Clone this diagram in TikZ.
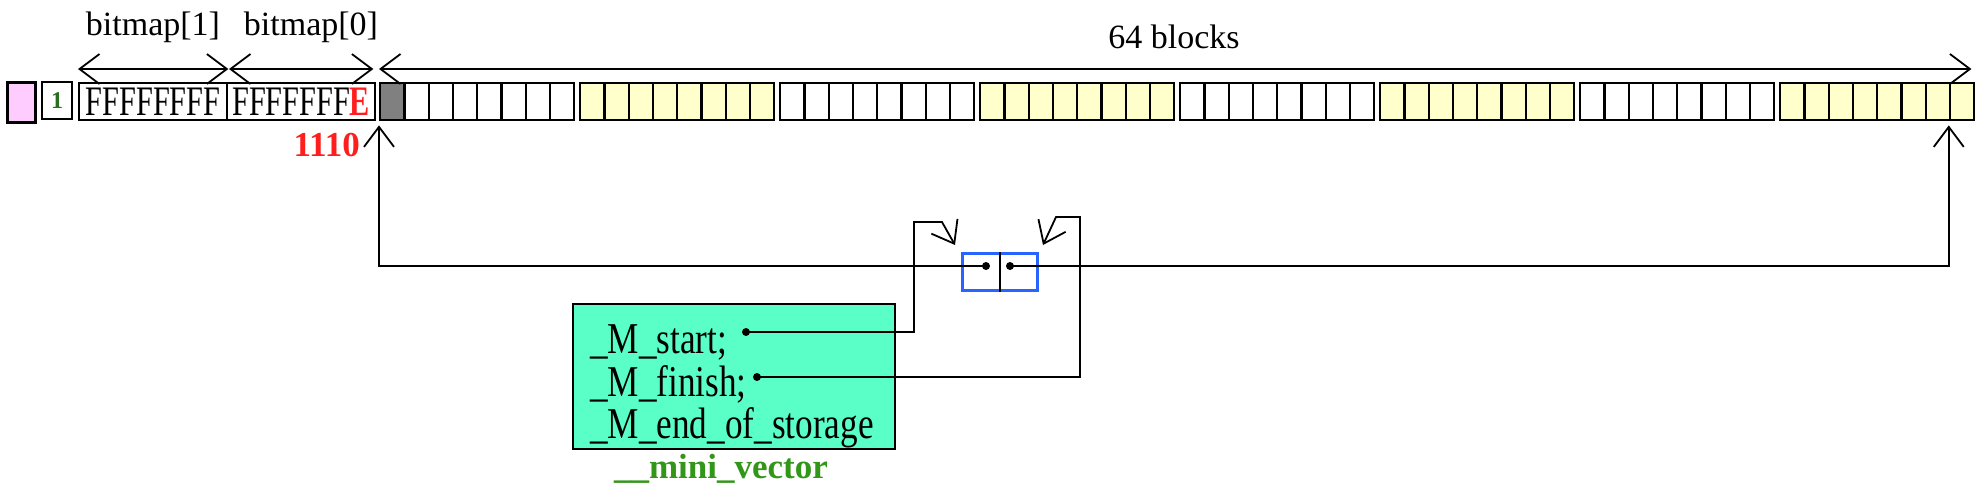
\documentclass[tikz,border=0pt]{standalone}
\usepackage{fontspec}
\setmainfont{Liberation Serif}
\newfontfamily\hexfont{Liberation Serif}[FakeStretch=0.72]
\newfontfamily\fieldfont{Liberation Serif}[FakeStretch=0.8]
\usetikzlibrary{arrows.meta,positioning}
\definecolor{blockyellow}{RGB}{255,255,204}
\definecolor{headpink}{RGB}{255,204,255}
\definecolor{vecblue}{RGB}{40,100,255}
\definecolor{minigreen}{RGB}{90,255,200}
\definecolor{namegreen}{RGB}{50,150,25}
\definecolor{countgreen}{RGB}{40,110,30}
\definecolor{bitred}{RGB}{255,30,30}

\begin{document}
\begin{tikzpicture}[x=1pt, y=-1pt,
    box/.style={draw, line width=2.4pt, inner sep=0pt, anchor=north west},
    blk/.style={box, minimum width=24.25pt, minimum height=37pt},
    toptext/.style={font=\fontsize{34}{40}\selectfont, inner sep=0pt, anchor=base},
    field/.style={font=\fieldfont\fontsize{44}{42}\selectfont, inner sep=0pt, anchor=base west},
    ptr/.style={line width=1.8pt, -{Straight Barb[length=20pt,width=30pt]}},
    dimline/.style={line width=1.8pt, {Straight Barb[length=20pt,width=30pt]}-{Straight Barb[length=20pt,width=30pt]}}]

\useasboundingbox (0,0) rectangle (1976,501);

\node[box, line width=3pt, fill=headpink, minimum width=28pt, minimum height=40pt] (head) at (6,81) {};
\node[box, minimum width=30pt, minimum height=37pt, text=countgreen, font=\bfseries\fontsize{24}{26}\selectfont] (count) at (41,81) {1};
\node[box, minimum width=148pt, minimum height=37pt, font=\hexfont\fontsize{42}{42}\selectfont] (bm1) at (78,82) {FFFFFFFF};
\node[box, minimum width=148pt, minimum height=37pt, font=\hexfont\fontsize{42}{42}\selectfont] (bm0) at (226,82) {FFFFFFF\textcolor{bitred}{\bfseries E}};

\foreach \g in {0,...,7} {
  \foreach \k in {1,...,8} {
    \pgfmathtruncatemacro\n{8*\g+\k}
    \ifodd\g \def\blkfill{blockyellow}\else\def\blkfill{white}\fi
    \ifnum\n=1 \def\blkfill{gray}\fi
    \node[blk, fill=\blkfill] (b\n) at ({379+200*\g+24.25*(\k-1)},82) {};
  }
}

\draw[dimline] ([yshift=13pt]bm1.north west) -- ([yshift=13pt]bm1.north east);
\draw[dimline] ([xshift=3pt,yshift=13pt]bm0.north west) -- ([xshift=-3pt,yshift=13pt]bm0.north east);
\draw[dimline] ([yshift=13pt]b1.north west) -- ([xshift=-4pt,yshift=13pt]b64.north east);

\node[toptext] (bm1name) at (153,35) {bitmap[1]};
\node[toptext] (bm0name) at (311,35) {bitmap[0]};
\node[toptext] (blocksname) at (1174,48) {64 blocks};
\node[inner sep=0pt, anchor=base east, text=bitred, font=\bfseries\fontsize{35}{40}\selectfont] (bits) at (360,156) {1110};

\node[box, draw=vecblue, line width=3pt, minimum width=75pt, minimum height=37pt] (vec) at (961,252) {};
\draw[line width=1.8pt] (vec.north) -- (vec.south);
\coordinate (ldot) at (986,266);
\coordinate (rdot) at (1010,266);

\draw[ptr] (ldot) -| ([yshift=-4pt]b1.south west);
\draw[ptr] (rdot) -| ([yshift=-4pt]b64.south west);

\node[box, fill=minigreen, minimum width=322pt, minimum height=145pt] (mini) at (572,303) {};
\node[field] (mstart) at (590,353) {\_M\_start;};
\node[field] (mfinish) at (590,396) {\_M\_finish;};
\node[field] (mend) at (590,438) {\_M\_end\_of\_storage};
\node[inner sep=0pt, anchor=base, text=namegreen, font=\bfseries\fontsize{35}{40}\selectfont] (mininame) at (721,478) {\_\_mini\_vector};

\coordinate (sdot) at (746,332);
\coordinate (fdot) at (757,377);
\coordinate (sptr) at (955,245);
\coordinate (fptr) at (1043,245);
\draw[ptr] (sdot) -| (914,222) -- (942,222) -- (sptr);
\draw[ptr] (fdot) -| (1080,217) -- (1056,217) -- (fptr);

\foreach \d in {ldot,rdot,sdot,fdot}
  \fill (\d) circle (4pt);
\end{tikzpicture}
\end{document}
